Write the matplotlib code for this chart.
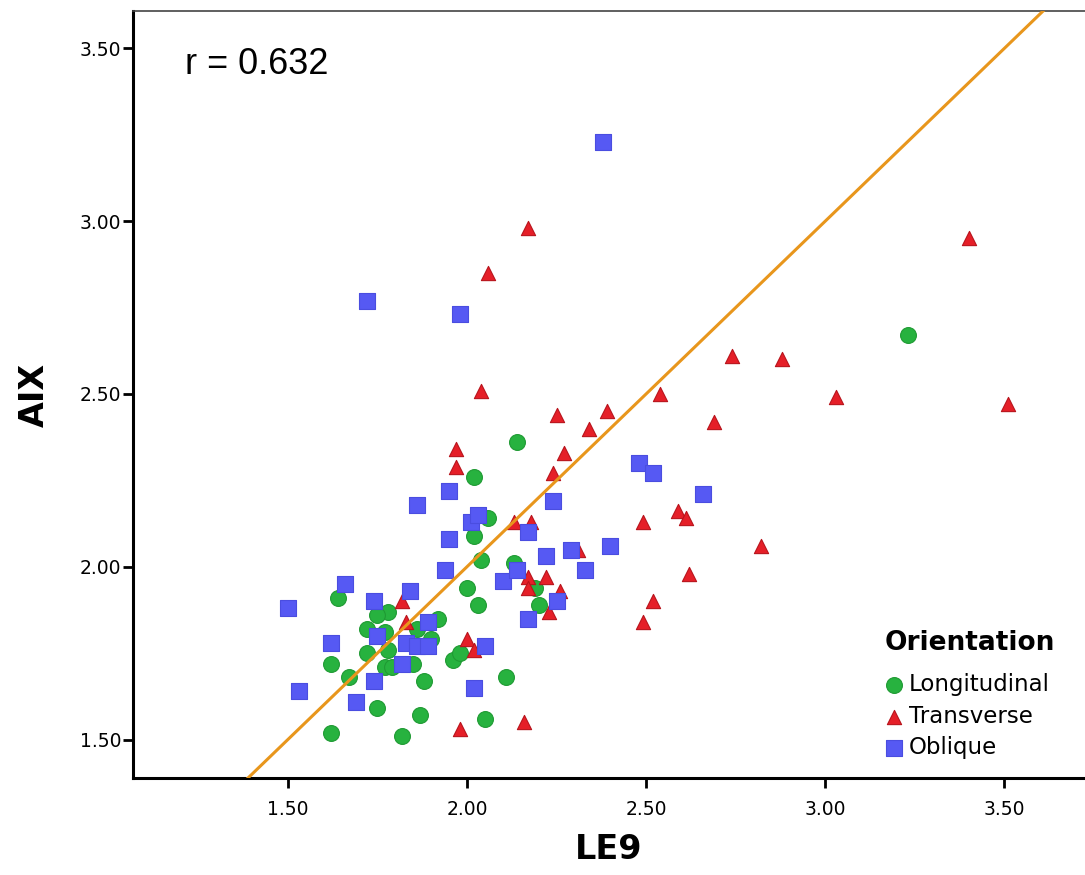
import numpy as np
import matplotlib
matplotlib.use("Agg")
from matplotlib import pyplot as plt

# LE9 (x) and AIX (y) per orientation
long_x = [3.23, 2.14, 2.02, 2.06, 2.02, 2.04, 2.00, 2.03, 2.13, 2.19, 2.20, 2.11, 2.05,
          1.64, 1.78, 1.75, 1.92, 1.72, 1.77, 1.86, 1.90, 1.78, 1.72, 1.96, 1.98,
          1.62, 1.77, 1.79, 1.85, 1.67, 1.88, 1.75, 1.87, 1.62, 1.82]
long_y = [2.67, 2.36, 2.26, 2.14, 2.09, 2.02, 1.94, 1.89, 2.01, 1.94, 1.89, 1.68, 1.56,
          1.91, 1.87, 1.86, 1.85, 1.82, 1.81, 1.82, 1.79, 1.76, 1.75, 1.73, 1.75,
          1.72, 1.71, 1.71, 1.72, 1.68, 1.67, 1.59, 1.57, 1.52, 1.51]

trans_x = [2.17, 2.06, 2.04, 3.40, 2.74, 2.88, 2.54, 2.39, 3.03, 3.51, 2.69, 2.25, 2.34,
           2.27, 2.24, 1.97, 1.97, 2.13, 2.18, 2.49, 2.59, 2.61, 2.82, 2.62, 2.52,
           2.49, 2.31, 2.17, 2.17, 2.22, 2.26, 2.23, 2.16, 2.00, 2.02, 1.98, 1.82, 1.83]
trans_y = [2.98, 2.85, 2.51, 2.95, 2.61, 2.60, 2.50, 2.45, 2.49, 2.47, 2.42, 2.44, 2.40,
           2.33, 2.27, 2.34, 2.29, 2.13, 2.13, 2.13, 2.16, 2.14, 2.06, 1.98, 1.90,
           1.84, 2.05, 1.97, 1.94, 1.97, 1.93, 1.87, 1.55, 1.79, 1.76, 1.53, 1.90, 1.84]

obl_x = [2.38, 1.72, 1.98, 1.50, 1.66, 1.86, 1.95, 2.01, 2.03, 1.95, 1.94, 1.74, 1.84,
         1.62, 1.75, 1.89, 1.83, 1.86, 1.89, 1.82, 1.74, 1.53, 1.69, 2.02, 2.05,
         2.48, 2.52, 2.24, 2.17, 2.22, 2.29, 2.40, 2.33, 2.66, 2.10, 2.14, 2.25, 2.17]
obl_y = [3.23, 2.77, 2.73, 1.88, 1.95, 2.18, 2.22, 2.13, 2.15, 2.08, 1.99, 1.90, 1.93,
         1.78, 1.80, 1.84, 1.78, 1.77, 1.77, 1.72, 1.67, 1.64, 1.61, 1.65, 1.77,
         2.30, 2.27, 2.19, 2.10, 2.03, 2.05, 2.06, 1.99, 2.21, 1.96, 1.99, 1.90, 1.85]

fit_slope = 1.0
fit_intercept = 0.0
r_value = 0.632

xticks = [1.5, 2.0, 2.5, 3.0, 3.5]
yticks = [1.5, 2.0, 2.5, 3.0, 3.5]

fig = plt.figure(figsize=(10.85, 8.75), dpi=100)
ax = fig.add_axes([0.1226, 0.1109, 0.8774, 0.8765])
ax.set_xlim(1.068, 3.725)
ax.set_ylim(1.389, 3.608)

ax.scatter(long_x, long_y, s=130, marker='o', color='#27b23f', edgecolors='#1f9a33',
           linewidths=0.8, label='Longitudinal', zorder=3)
ax.scatter(trans_x, trans_y, s=105, marker='^', color='#e51f28', edgecolors='#b8141c',
           linewidths=0.8, label='Transverse', zorder=3)
ax.scatter(obl_x, obl_y, s=125, marker='s', color='#5659f3', edgecolors='#4a4de0',
           linewidths=0.8, label='Oblique', zorder=4)

# fit line
lx = np.array([1.0, 4.0])
ax.plot(lx, fit_slope * lx + fit_intercept, color='#e8961c', lw=2.2, zorder=5)

ax.text(0.055, 0.9175, 'r = %.3f' % r_value, transform=ax.transAxes,
        fontsize=26, family='Liberation Sans', va='baseline', ha='left')

ax.set_xticks(xticks)
ax.set_yticks(yticks)
ax.set_xticklabels(['%.2f' % v for v in xticks])
ax.set_yticklabels(['%.2f' % v for v in yticks])
ax.tick_params(axis='both', direction='out', length=7, width=2, labelsize=13.5, pad=1.5)
ax.tick_params(axis='x', pad=9)

for s in ['left', 'bottom']:
    ax.spines[s].set_linewidth(2.2)
ax.spines['top'].set_linewidth(1.2)
ax.spines['top'].set_color('#444444')
ax.spines['right'].set_visible(False)

ax.set_xlabel('LE9', fontsize=24, fontweight='bold', labelpad=10)
ax.set_ylabel('AIX', fontsize=24, fontweight='bold', labelpad=21)

# legend: title drawn separately so the gap under it matches
ax.text(0.790, 0.1669, 'Orientation', transform=ax.transAxes, fontsize=19,
        fontweight='bold', va='baseline', ha='left')
leg = ax.legend(loc='upper left', bbox_to_anchor=(0.787, 0.137), frameon=False,
                fontsize=16.5, handletextpad=0.15, labelspacing=0.38, borderpad=0,
                borderaxespad=0, handlelength=1.0)

fig.savefig('out.png', dpi=100)
